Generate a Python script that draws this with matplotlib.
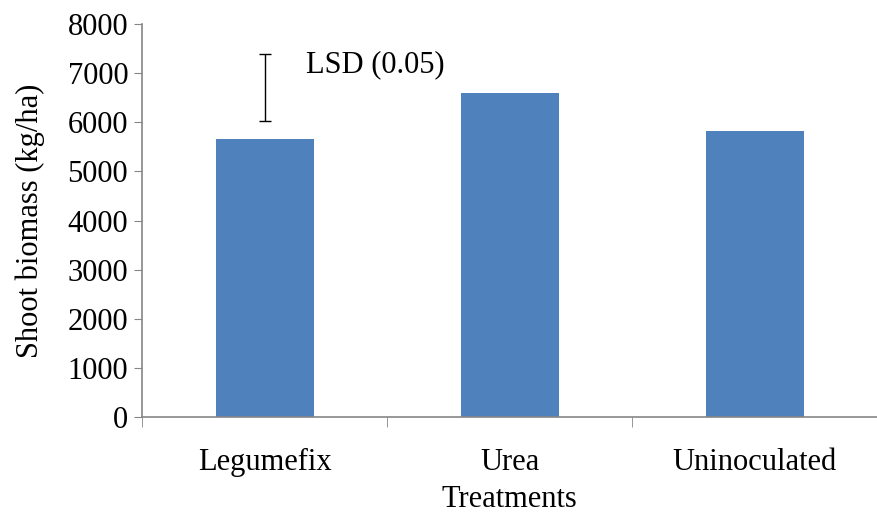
import matplotlib
matplotlib.use("Agg")
import matplotlib.pyplot as plt
import numpy as np

treatments = ["Legumefix", "Urea", "Uninoculated"]
biomass = [5660, 6590, 5820]
lsd_low, lsd_high = 6020, 7380

plt.rcParams["font.family"] = ["Liberation Serif", "DejaVu Serif"]
FS = 22

fig = plt.figure(figsize=(8.77, 5.14), dpi=100)
ax = fig.add_axes([0.162, 0.1887, 0.838, 0.7646])

x = np.arange(len(treatments))
ax.bar(x, biomass, width=0.4, color="#4f81bd")

# LSD bar drawn above the first bar
mid = (lsd_low + lsd_high) / 2
ax.errorbar([0], [mid], yerr=[[mid - lsd_low], [lsd_high - mid]], fmt="none",
            ecolor="black", elinewidth=1, capsize=4.5, capthick=1)
ax.text(0.168, 7170, "LSD (0.05)", fontsize=FS, va="center", ha="left")

ax.set_xlim(-0.5, 2.458)
ax.set_ylim(0, 8000)
ax.set_yticks(np.arange(0, 8001, 1000))
ax.set_xticks(x)
ax.set_xticklabels(treatments)
ax.set_xticks([-0.5, 0.5, 1.5, 2.5], minor=True)

for s in ["top", "right"]:
    ax.spines[s].set_visible(False)
for s in ["left", "bottom"]:
    ax.spines[s].set_color("#868686")
    ax.spines[s].set_linewidth(1.2)

ax.tick_params(axis="y", direction="out", length=6, color="#868686", labelsize=FS, pad=4)
ax.tick_params(axis="x", which="major", length=0, labelsize=FS, pad=22)
ax.tick_params(axis="x", which="minor", direction="out", length=7, color="#868686")

ax.set_xlabel("Treatments", fontsize=FS, labelpad=6)
ax.set_ylabel("Shoot biomass (kg/ha)", fontsize=FS, labelpad=16)

fig.savefig("out.png", dpi=100)
